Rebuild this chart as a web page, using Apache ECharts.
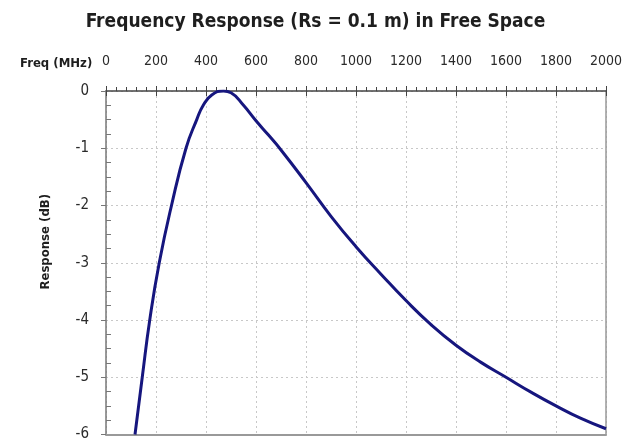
<!DOCTYPE html>
<html>
<head>
<meta charset="utf-8">
<script src="https://cdn.jsdelivr.net/npm/echarts@6/dist/echarts.min.js"></script>
<style>
  html, body { margin: 0; padding: 0; background: #fff; }
  #chart { width: 631px; height: 442px; }
</style>
</head>
<body>
<div id="chart"></div>
<script>
// --- data ---
const freqMHz = [116, 145, 175, 213, 262, 320, 363, 389, 423, 470, 500, 550, 600, 650, 700, 800, 900, 1000, 1100, 1200, 1300, 1400, 1500, 1600, 1700, 1800, 1900, 2000];
const responseDb = [-6, -5, -4, -3, -2, -1, -0.5, -0.25, -0.07, 0, -0.03, -0.25, -0.52, -0.77, -1.03, -1.6, -2.19, -2.72, -3.2, -3.66, -4.08, -4.44, -4.74, -5.0, -5.26, -5.5, -5.72, -5.9];
const freqTicks = [0, 200, 400, 600, 800, 1000, 1200, 1400, 1600, 1800, 2000];
const dbTicks = [0, -1, -2, -3, -4, -5, -6];

const points = freqMHz.map((f, i) => [f, responseDb[i]]);

const font = "'DejaVu Sans Condensed', 'DejaVu Sans', sans-serif";
const gridLine = { color: '#c8c8c8', width: 1, type: [2, 3] };

const chart = echarts.init(document.getElementById('chart'));
chart.setOption({
  animation: false,
  backgroundColor: '#fff',
  title: [
    {
      text: 'Frequency Response (Rs = 0.1 m) in Free Space',
      left: 'center', top: 8,
      textStyle: { fontFamily: font, fontSize: 19, fontWeight: 'bold', color: '#1e1e1e' }
    },
    {
      text: 'Freq (MHz)',
      left: 15, top: 52,
      textStyle: { fontFamily: font, fontSize: 13, fontWeight: 'bold', color: '#1e1e1e' }
    }
  ],
  grid: { left: 106, top: 91, width: 500, height: 344 },
  xAxis: [
    // top axis with labels, outside major + minor ticks
    {
      type: 'value', position: 'top', min: 0, max: 2000, interval: 200,
      axisLine: { show: true, lineStyle: { color: '#444', width: 1.5 } },
      axisTick: { show: true, length: 5, lineStyle: { color: '#444' } },
      minorTick: { show: true, splitNumber: 5, length: 4, lineStyle: { color: '#444' } },
      axisLabel: {
        margin: 23, fontFamily: font, fontSize: 14, color: '#2a2a2a',
        customValues: freqTicks,
        formatter: (v) => String(v)
      },
      splitLine: { show: true, lineStyle: gridLine }
    },
    // major ticks reaching into the plot
    {
      type: 'value', position: 'top', min: 0, max: 2000, interval: 200,
      axisLine: { show: false },
      axisTick: { show: true, inside: true, length: 5, lineStyle: { color: '#444' } },
      axisLabel: { show: false },
      splitLine: { show: false }
    },
    // bottom frame line
    {
      type: 'value', position: 'bottom', min: 0, max: 2000,
      axisLine: { show: true, onZero: false, lineStyle: { color: '#999', width: 2 } },
      axisTick: { show: false }, axisLabel: { show: false }, splitLine: { show: false }
    }
  ],
  yAxis: [
    {
      type: 'value', position: 'left', min: -6, max: 0, interval: 1,
      name: 'Response (dB)', nameLocation: 'middle', nameGap: 54,
      nameTextStyle: { fontFamily: font, fontSize: 13, fontWeight: 'bold', color: '#1e1e1e', padding: [0, 0, 0, 42] },
      axisLine: { show: true, onZero: false, lineStyle: { color: '#777', width: 1.5 } },
      axisTick: { show: true, length: 5, lineStyle: { color: '#777' } },
      axisLabel: {
        margin: 17, fontFamily: font, fontSize: 15, color: '#2a2a2a',
        customValues: dbTicks
      },
      splitLine: { show: true, lineStyle: gridLine }
    },
    // minor ticks on the inside of the left axis
    {
      type: 'value', position: 'left', min: -6, max: 0, interval: 1,
      axisLine: { show: false },
      axisTick: { show: false, inside: true },
      minorTick: { show: true, splitNumber: 4, length: 5, lineStyle: { color: '#777' } },
      axisLabel: { show: false },
      splitLine: { show: false }
    },
    // right frame line
    {
      type: 'value', position: 'right', min: -6, max: 0,
      axisLine: { show: true, onZero: false, lineStyle: { color: '#999', width: 1.5 } },
      axisTick: { show: false }, axisLabel: { show: false }, splitLine: { show: false }
    }
  ],
  series: [
    {
      type: 'line',
      data: points,
      smooth: 0.5,
      showSymbol: false,
      lineStyle: { color: '#16167e', width: 3 }
    }
  ]
});
</script>
</body>
</html>
